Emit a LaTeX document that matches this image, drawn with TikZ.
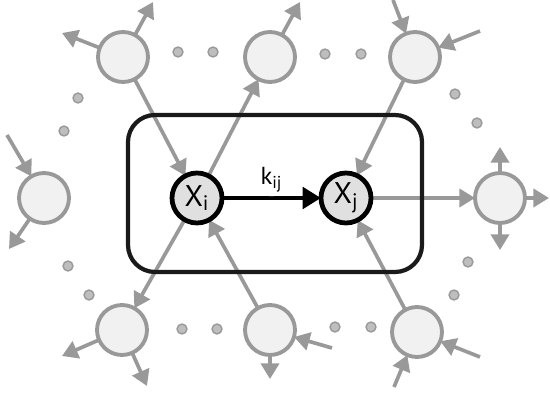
\documentclass[tikz,border=0pt]{standalone}
\usepackage{fontspec}
\setmainfont{PT Sans}
\usepackage{tikz-network}
\usetikzlibrary{arrows.meta}

\definecolor{lgray}{RGB}{153,153,153}
\definecolor{nfill}{RGB}{241,241,241}
\definecolor{xfill}{RGB}{224,224,224}
\definecolor{dotfill}{RGB}{190,190,190}
\definecolor{boxline}{RGB}{26,26,26}

\SetVertexStyle[LineColor=lgray, LineWidth=2.2pt, FillColor=nfill, MinSize=1.0cm, TextFont=\fontsize{17pt}{20pt}\selectfont]
\SetEdgeStyle[LineWidth=2.1pt, Color=lgray, Arrow=-Triangle]

\begin{document}
\begin{tikzpicture}
\useasboundingbox (0,0) rectangle (11,7.88);
\draw[boxline, line width=2.4pt, rounded corners=0.54cm] (2.56,2.44) rectangle (8.44,5.58);
\Vertex[label=X\textsubscript{i}, x=3.94, y=3.92, color=xfill, style={draw=black, line width=2.7pt}]{Xi}
\Vertex[label=X\textsubscript{j}, x=6.92, y=3.92, color=xfill, style={draw=black, line width=2.7pt}]{Xj}
\Vertex[x=2.46, y=6.74]{TL}
\Vertex[x=5.40, y=6.74]{TM}
\Vertex[x=8.30, y=6.74]{TR}
\Vertex[x=0.88, y=3.92]{L}
\Vertex[x=10.00, y=3.92]{R}
\Vertex[x=2.44, y=1.28]{BL}
\Vertex[x=5.40, y=1.28]{BM}
\Vertex[x=8.34, y=1.24]{BR}
% dots
\Vertex[x=3.56, y=6.84, size=0.12, color=dotfill, style={line width=0.8pt}]{d1}
\Vertex[x=4.26, y=6.84, size=0.12, color=dotfill, style={line width=0.8pt}]{d2}
\Vertex[x=6.50, y=6.80, size=0.12, color=dotfill, style={line width=0.8pt}]{d3}
\Vertex[x=7.22, y=6.80, size=0.12, color=dotfill, style={line width=0.8pt}]{d4}
\Vertex[x=1.56, y=5.92, size=0.12, color=dotfill, style={line width=0.8pt}]{d5}
\Vertex[x=1.28, y=5.26, size=0.12, color=dotfill, style={line width=0.8pt}]{d6}
\Vertex[x=9.10, y=6.00, size=0.12, color=dotfill, style={line width=0.8pt}]{d7}
\Vertex[x=9.54, y=5.42, size=0.12, color=dotfill, style={line width=0.8pt}]{d8}
\Vertex[x=1.36, y=2.56, size=0.12, color=dotfill, style={line width=0.8pt}]{d9}
\Vertex[x=1.78, y=1.98, size=0.12, color=dotfill, style={line width=0.8pt}]{d10}
\Vertex[x=3.64, y=1.30, size=0.12, color=dotfill, style={line width=0.8pt}]{d11}
\Vertex[x=4.34, y=1.30, size=0.12, color=dotfill, style={line width=0.8pt}]{d12}
\Vertex[x=6.70, y=1.34, size=0.12, color=dotfill, style={line width=0.8pt}]{d13}
\Vertex[x=7.42, y=1.34, size=0.12, color=dotfill, style={line width=0.8pt}]{d14}
\Vertex[x=9.36, y=2.64, size=0.12, color=dotfill, style={line width=0.8pt}]{d15}
\Vertex[x=9.08, y=1.98, size=0.12, color=dotfill, style={line width=0.8pt}]{d16}
% loose ends
\coordinate (tla) at (1.24,7.22);
\coordinate (tlb) at (3.06,7.84);
\coordinate (tma) at (6.00,7.84);
\coordinate (tra) at (7.86,7.88);
\coordinate (trb) at (9.60,7.26);
\coordinate (la) at (0.14,5.18);
\coordinate (lb) at (0.18,2.90);
\coordinate (ra) at (10.00,4.94);
\coordinate (rb) at (10.98,3.92);
\coordinate (rc) at (10.00,2.88);
\coordinate (bla) at (1.24,0.76);
\coordinate (blb) at (2.94,0.16);
\coordinate (bma) at (5.40,0.30);
\coordinate (bmb) at (6.64,0.92);
\coordinate (bra) at (9.60,0.74);
\coordinate (brb) at (7.88,0.14);
\Edge[Direct, color=black, label=k\textsubscript{ij}, position=above, fontsize=\fontsize{14pt}{17pt}\selectfont, style={line width=2.6pt}](Xi)(Xj)
\Edge[Direct](TL)(Xi)
\Edge[Direct](Xi)(TM)
\Edge[Direct](TR)(Xj)
\Edge[Direct](Xj)(R)
\Edge[Direct](Xi)(BL)
\Edge[Direct](BM)(Xi)
\Edge[Direct](BR)(Xj)
\Edge[Direct](TL)(tla)
\Edge[Direct](TL)(tlb)
\Edge[Direct](TM)(tma)
\Edge[Direct](tra)(TR)
\Edge[Direct](trb)(TR)
\Edge[Direct](la)(L)
\Edge[Direct](L)(lb)
\Edge[Direct](R)(ra)
\Edge[Direct](R)(rb)
\Edge[Direct](R)(rc)
\Edge[Direct](BL)(bla)
\Edge[Direct](BL)(blb)
\Edge[Direct](BM)(bma)
\Edge[Direct](bmb)(BM)
\Edge[Direct](bra)(BR)
\Edge[Direct](brb)(BR)
\end{tikzpicture}
\end{document}
